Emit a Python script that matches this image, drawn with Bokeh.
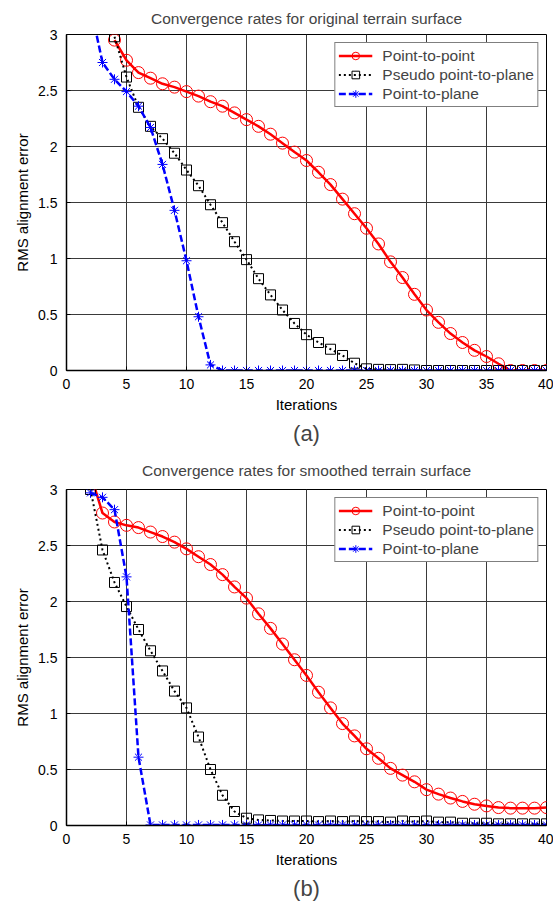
from bokeh.plotting import figure
from bokeh.models import Range1d, Title, NumeralTickFormatter, Legend
from bokeh.layouts import column
from bokeh.embed import file_html
from bokeh.resources import INLINE

# ---------------- data ----------------
x_ticks = [0, 5, 10, 15, 20, 25, 30, 35, 40]
y_ticks = [0, 0.5, 1, 1.5, 2, 2.5, 3]

# (a) original terrain surface
a_ptp_x = list(range(4, 41))
a_ptp_y = [2.95, 2.77, 2.66, 2.61, 2.56, 2.53, 2.49, 2.45, 2.40, 2.36, 2.30, 2.24,
           2.18, 2.11, 2.03, 1.95, 1.875, 1.77, 1.66, 1.53, 1.40, 1.27, 1.13, 0.97,
           0.83, 0.68, 0.54, 0.43, 0.33, 0.25, 0.18, 0.125, 0.06, 0.0, 0.0, 0.0, 0.0]
a_pp_x = list(range(4, 41))
a_pp_y = [2.98, 2.62, 2.35, 2.18, 2.07, 1.94, 1.79, 1.65, 1.48, 1.32, 1.15, 0.99,
          0.82, 0.675, 0.54, 0.42, 0.32, 0.25, 0.19, 0.134, 0.065, 0.015,
          0.01, 0.008, 0.01, 0.005, 0.0, 0.0, 0.0, 0.0, 0.0, 0.0, 0.0, 0.0, 0.0, 0.0, 0.0]
a_pl_x = list(range(2, 41))
a_pl_y = [3.25, 2.75, 2.60, 2.49, 2.36, 2.17, 1.84, 1.43, 0.98, 0.48, 0.05,
          0.0, 0.0, 0.0, 0.0, 0.0, 0.0, 0.0, 0.0, 0.0, 0.0, 0.0, 0.0, 0.0, 0.0,
          0.0, 0.0, 0.0, 0.0, 0.0, 0.0, 0.0, 0.0, 0.0, 0.0, 0.0, 0.0, 0.0, 0.0]

# (b) smoothed terrain surface
b_ptp_x = list(range(2, 41))
b_ptp_y = [3.14, 2.79, 2.71, 2.68, 2.66, 2.62, 2.58, 2.53, 2.47, 2.40, 2.33, 2.24,
           2.13, 2.03, 1.89, 1.76, 1.62, 1.48, 1.34, 1.19, 1.05, 0.91, 0.80, 0.685,
           0.60, 0.51, 0.45, 0.39, 0.32, 0.28, 0.245, 0.215, 0.19, 0.175, 0.16,
           0.155, 0.155, 0.155, 0.16]
b_pp_x = list(range(2, 41))
b_pp_y = [3.0, 2.46, 2.17, 1.955, 1.75, 1.56, 1.38, 1.20, 1.05, 0.79, 0.50, 0.27,
          0.125, 0.065, 0.05, 0.045, 0.04, 0.04, 0.04, 0.035, 0.04, 0.035, 0.04,
          0.035, 0.035, 0.03, 0.04, 0.035, 0.04, 0.03, 0.03, 0.02, 0.02, 0.02,
          0.015, 0.015, 0.015, 0.015, 0.015]
b_pl_x = list(range(2, 41))
b_pl_y = [2.97, 2.93, 2.82, 2.22, 0.61, 0.005,
          0.005, 0.005, 0.005, 0.005, 0.005, 0.005, 0.005, 0.005, 0.005, 0.005, 0.005,
          0.005, 0.005, 0.005, 0.005, 0.005, 0.005, 0.005, 0.005, 0.005, 0.005, 0.005,
          0.005, 0.005, 0.005, 0.005, 0.005, 0.005, 0.005, 0.005, 0.005, 0.005, 0.005]

labels = ["Point-to-point", "Pseudo point-to-plane", "Point-to-plane"]
FONT = "Liberation Sans"


def make_fig(title, caption, series, height, top, bottom, spacer):
    p = figure(width=553, height=height, output_backend="svg", toolbar_location=None,
               x_range=Range1d(0, 40), y_range=Range1d(0, 3),
               min_border_left=66, min_border_right=7, min_border_top=top,
               min_border_bottom=bottom, background_fill_color="white",
               border_fill_color="white")
    # thin empty spacer between frame and title
    sp = Title(text=" ", text_font=FONT, text_font_size=spacer, standoff=0)
    p.add_layout(sp, "above")
    t = Title(text=title, align="center", text_font=FONT, text_font_size="15.5px",
              text_font_style="normal", standoff=0)
    p.add_layout(t, "above")

    for ax in (p.xaxis[0], p.yaxis[0]):
        ax.major_tick_in = 4
        ax.major_tick_out = 0
        ax.minor_tick_line_color = None
        ax.axis_line_color = "black"
        ax.axis_line_width = 1.5
        ax.major_tick_line_color = "black"
        ax.major_label_text_font = FONT
        ax.major_label_text_font_size = "14px"
        ax.major_label_text_color = "black"
        ax.axis_label_text_font = FONT
        ax.axis_label_text_font_size = "15px"
        ax.axis_label_text_font_style = "normal"
        ax.axis_label_text_color = "black"
    p.xaxis.ticker = x_ticks
    p.yaxis.ticker = y_ticks
    p.yaxis.formatter = NumeralTickFormatter(format="0.[0]")
    p.xaxis.axis_label = "Iterations"
    p.yaxis.axis_label = "RMS alignment error"
    p.xaxis.major_label_standoff = 8
    p.xaxis.axis_label_standoff = 4
    p.yaxis.major_label_standoff = 9
    p.yaxis.axis_label_standoff = 4

    p.xgrid.grid_line_color = "#3a3a3a"
    p.ygrid.grid_line_color = "#3a3a3a"
    p.xgrid.grid_line_width = 1
    p.ygrid.grid_line_width = 1
    p.outline_line_color = "black"
    p.outline_line_width = 1

    (x1, y1), (x2, y2), (x3, y3) = series
    r1 = p.line(x1, y1, line_color="#ff0000", line_width=2.5)
    s1 = p.scatter(x1, y1, marker="circle", size=12, line_color="#ff0000",
                   fill_color=None, line_width=1)
    r2 = p.line(x2, y2, line_color="black", line_width=2, line_dash="2 3")
    s2 = p.scatter(x2, y2, marker="square", size=10, line_color="black",
                   fill_color=None, line_width=1)
    r3 = p.line(x3, y3, line_color="#0000ff", line_width=2.5, line_dash="7 3")
    s3 = p.scatter(x3, y3, marker="asterisk", size=10, line_color="#0000ff",
                   line_width=1)

    leg = Legend(items=[(labels[0], [r1, s1]), (labels[1], [r2, s2]),
                        (labels[2], [r3, s3])],
                 location="top_right")
    leg.border_line_color = "black"
    leg.border_line_width = 1
    leg.background_fill_alpha = 1
    leg.label_text_font = FONT
    leg.label_text_font_size = "15.5px"
    leg.glyph_width = 34
    leg.glyph_height = 19
    leg.label_height = 19
    leg.spacing = 0
    leg.padding = 3
    leg.margin = 8
    leg.label_standoff = 10
    p.add_layout(leg, "center")

    cap = Title(text=caption, align="center", text_font=FONT, text_font_size="22px",
                text_font_style="normal", standoff=6)
    p.add_layout(cap, "below")
    return p


p1 = make_fig("Convergence rates for original terrain surface", "(a)",
              [(a_ptp_x, a_ptp_y), (a_pp_x, a_pp_y), (a_pl_x, a_pl_y)], 455, 34, 85, "5px")
p2 = make_fig("Convergence rates for smoothed terrain surface", "(b)",
              [(b_ptp_x, b_ptp_y), (b_pp_x, b_pp_y), (b_pl_x, b_pl_y)], 448, 34, 78, "8px")

layout = column(p1, p2, spacing=0)
open("out.html", "w").write(file_html(layout, INLINE))
